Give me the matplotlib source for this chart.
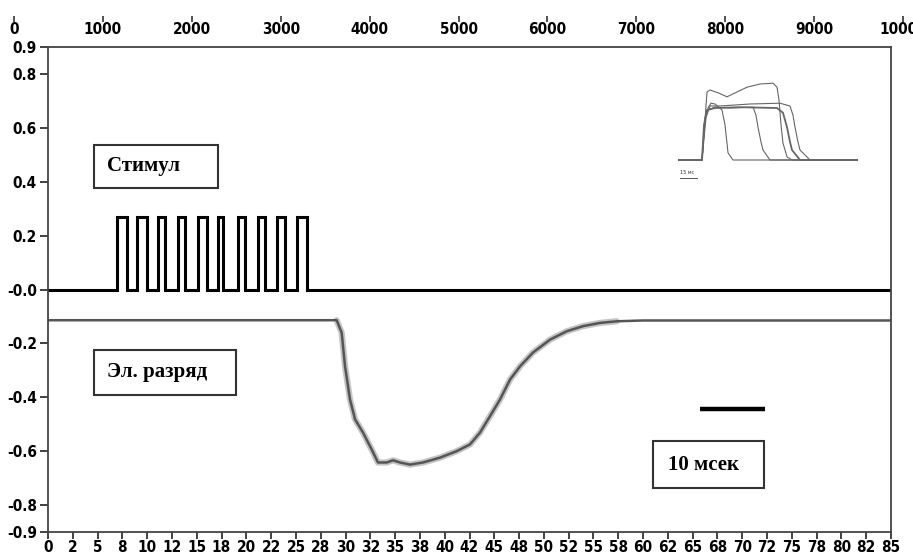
import matplotlib
matplotlib.use('Agg')
import matplotlib.pyplot as plt
from matplotlib.patches import Rectangle

# --- данные ---
# стимул: моменты включения / выключения импульсов, мс
pulse_on = [6.96, 8.97, 11.09, 13.11, 15.12, 17.14, 19.16, 21.17, 23.09, 25.11]
pulse_off = [7.97, 9.98, 11.80, 13.81, 16.03, 17.64, 19.86, 21.88, 23.90, 26.12]
pulse_amp = 0.27
stim_base = 0.0

# электрический разряд
disch_t = [0, 29.11, 29.61, 29.95, 30.45, 30.96, 31.76, 32.64, 33.27, 34.15,
           34.79, 35.49, 36.50, 37.81, 39.53, 41.21, 42.55, 43.56, 44.57,
           45.58, 46.59, 47.60, 48.90, 50.62, 52.30, 53.95, 55.66, 57.34,
           60.0, 85.0]
disch_v = [-0.114, -0.114, -0.160, -0.285, -0.408, -0.482, -0.531, -0.594,
           -0.642, -0.642, -0.634, -0.642, -0.650, -0.642, -0.624, -0.600,
           -0.575, -0.531, -0.470, -0.408, -0.334, -0.285, -0.234, -0.186,
           -0.155, -0.136, -0.124, -0.118, -0.115, -0.115]

# масштабная линейка
scalebar_t = [65.7, 72.3]
scalebar_v = -0.445

# оси
ytick_vals = [0.9, 0.8, 0.6, 0.4, 0.2, 0.0, -0.2, -0.4, -0.6, -0.8, -0.9]
ytick_labels = ['0.9', '0.8', '0.6', '0.4', '0.2', '-0.0', '-0.2', '-0.4',
                '-0.6', '-0.8', '-0.9']
xtick_vals = [i * 2.5 for i in range(35)]
xtick_labels = [str(round(v)) for v in xtick_vals]
top_vals = list(range(0, 10001, 1000))

# врезка (условные единицы)
inset_traces = [
    ([0, 24, 27, 29, 32, 40, 49, 59, 69, 82, 95, 99, 101, 103, 105, 109, 114, 180],
     [0, 0, 0.5, 0.85, 0.875, 0.84, 0.79, 0.85, 0.91, 0.95, 0.96, 0.91, 0.75, 0.44, 0.21, 0.04, 0, 0]),
    ([0, 24, 27, 30, 33, 37, 44, 47, 50, 55, 180],
     [0, 0, 0.5, 0.65, 0.71, 0.7, 0.625, 0.44, 0.09, 0, 0]),
    ([0, 24, 27, 30, 37, 52, 75, 78, 80, 83, 85, 92, 180],
     [0, 0, 0.53, 0.625, 0.66, 0.65, 0.66, 0.56, 0.41, 0.225, 0.125, 0, 0]),
    ([0, 24, 26, 29, 37, 62, 99, 105, 109, 112, 114, 122, 180],
     [0, 0, 0.44, 0.625, 0.65, 0.66, 0.65, 0.59, 0.41, 0.225, 0.125, 0, 0]),
    ([0, 24, 28, 32, 42, 72, 102, 112, 115, 117, 120, 122, 132, 180],
     [0, 0, 0.53, 0.675, 0.675, 0.7, 0.71, 0.675, 0.56, 0.41, 0.225, 0.125, 0, 0]),
]
inset_widths = [0.8, 0.8, 0.8, 1.3, 0.8]

W, H = 913, 558
tick_font = {'family': 'DejaVu Sans', 'weight': 'bold', 'stretch': 'condensed'}
box_font = {'family': ['Liberation Serif', 'DejaVu Serif'], 'weight': 'bold'}

fig = plt.figure(figsize=(W / 100, H / 100), dpi=100)
ax = fig.add_axes([48 / W, 1 - 532 / H, (891 - 48) / W, (532 - 47) / H])

# стимул
st_t = [0]
st_v = [stim_base]
for a, b in zip(pulse_on, pulse_off):
    st_t += [a, a, b, b]
    st_v += [stim_base, pulse_amp, pulse_amp, stim_base]
st_t.append(85)
st_v.append(stim_base)
ax.plot(st_t, st_v, color='black', lw=2.2, solid_joinstyle='miter')

# разряд: светлый "шум" только на участке разряда
ax.plot(disch_t[1:-2], disch_v[1:-2], color='#c4c4c4', lw=4.5,
        solid_capstyle='round')
ax.plot(disch_t, disch_v, color='#555555', lw=1.8)

ax.plot(scalebar_t, [scalebar_v, scalebar_v], color='black', lw=3.2,
        solid_capstyle='butt')

ax.set_xlim(0, 85)
ax.set_ylim(-0.9, 0.9)
ax.set_yticks(ytick_vals)
ax.set_yticklabels(ytick_labels, fontdict=tick_font, fontsize=11)
ax.set_xticks(xtick_vals)
ax.set_xticklabels(xtick_labels, fontdict=tick_font, fontsize=11)
ax.tick_params(axis='y', direction='out', length=6, width=1.3, pad=2,
               color='#333333')
ax.tick_params(axis='x', direction='out', length=5, width=1.3, pad=1,
               color='#333333')
for s in ax.spines.values():
    s.set_color('#444444')
    s.set_linewidth(1.3)

# верхняя шкала
axt = fig.add_axes([14 / W, 1 - 16 / H, (903 - 14) / W, 0.0001])
axt.set_xlim(0, 10000)
axt.set_yticks([])
for s in axt.spines.values():
    s.set_visible(False)
axt.set_xticks(top_vals)
axt.set_xticklabels([str(v) for v in top_vals], fontdict=tick_font, fontsize=11)
axt.tick_params(axis='x', direction='out', length=4, width=1.2, pad=0,
                color='#333333')
axt.patch.set_visible(False)


def box(x0, y0, x1, y1, text, tx):
    fig.patches.append(Rectangle((x0 / W, 1 - y1 / H), (x1 - x0) / W,
                                 (y1 - y0) / H, transform=fig.transFigure,
                                 fill=False, ec='#333333', lw=1.5))
    fig.text(tx / W, 1 - (y0 + y1) / 2 / H, text, fontdict=box_font,
             fontsize=15, ha='left', va='center')


box(94, 145, 218, 188, 'Стимул', 107)
box(94, 350, 236, 395, 'Эл. разряд', 107)
box(653, 441, 764, 488, '10 мсек', 668)

# врезка
axi = fig.add_axes([678 / W, 1 - 185 / H, 180 / W, 115 / H])
axi.set_xlim(0, 180)
axi.set_ylim(-0.3125, 1.125)
axi.axis('off')
for (tx, ty), lw in zip(inset_traces, inset_widths):
    axi.plot(tx, ty, color='#666666', lw=lw)
axi.plot([2, 19], [-0.225, -0.225], color='#555555', lw=0.7)
axi.text(2, -0.16, '15 мс', fontsize=3.5, color='#333333', va='center')

fig.savefig('out.png', dpi=100)
